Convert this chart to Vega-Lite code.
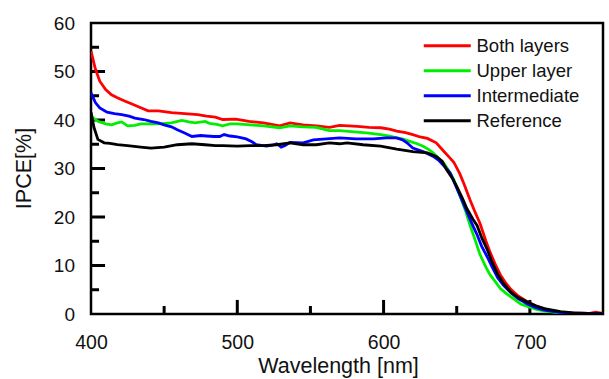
{
  "$schema": "https://vega.github.io/schema/vega-lite/v6.json",
  "width": 512,
  "height": 291,
  "autosize": "none",
  "padding": {"left": 91, "top": 23, "right": 6, "bottom": 65},
  "background": "white",
  "config": {
    "view": {"stroke": "#000", "strokeWidth": 2.5},
    "font": "Liberation Sans"
  },
  "datasets": {
    "xticks": [
      {"wavelength": 450, "kind": "minor"},
      {"wavelength": 500, "kind": "major"},
      {"wavelength": 550, "kind": "minor"},
      {"wavelength": 600, "kind": "major"},
      {"wavelength": 650, "kind": "minor"},
      {"wavelength": 700, "kind": "major"}
    ],
    "yticks": [
      {"ipce": 5, "kind": "minor"},
      {"ipce": 10, "kind": "major"},
      {"ipce": 15, "kind": "minor"},
      {"ipce": 20, "kind": "major"},
      {"ipce": 25, "kind": "minor"},
      {"ipce": 30, "kind": "major"},
      {"ipce": 35, "kind": "minor"},
      {"ipce": 40, "kind": "major"},
      {"ipce": 45, "kind": "minor"},
      {"ipce": 50, "kind": "major"},
      {"ipce": 55, "kind": "minor"}
    ],
    "curves": [
      {"series": "Both layers", "wavelength": 400, "ipce": 54.2},
      {"series": "Both layers", "wavelength": 403, "ipce": 50.5},
      {"series": "Both layers", "wavelength": 406, "ipce": 48.0},
      {"series": "Both layers", "wavelength": 410, "ipce": 46.3},
      {"series": "Both layers", "wavelength": 414, "ipce": 45.2},
      {"series": "Both layers", "wavelength": 418, "ipce": 44.6},
      {"series": "Both layers", "wavelength": 423, "ipce": 43.9},
      {"series": "Both layers", "wavelength": 428, "ipce": 43.3},
      {"series": "Both layers", "wavelength": 432, "ipce": 42.8},
      {"series": "Both layers", "wavelength": 439, "ipce": 41.9},
      {"series": "Both layers", "wavelength": 446, "ipce": 41.9},
      {"series": "Both layers", "wavelength": 455, "ipce": 41.5},
      {"series": "Both layers", "wavelength": 464, "ipce": 41.3},
      {"series": "Both layers", "wavelength": 473, "ipce": 41.1},
      {"series": "Both layers", "wavelength": 479, "ipce": 40.8},
      {"series": "Both layers", "wavelength": 485, "ipce": 40.6},
      {"series": "Both layers", "wavelength": 490, "ipce": 40.1},
      {"series": "Both layers", "wavelength": 499, "ipce": 40.2},
      {"series": "Both layers", "wavelength": 508, "ipce": 39.7},
      {"series": "Both layers", "wavelength": 518, "ipce": 39.4},
      {"series": "Both layers", "wavelength": 529, "ipce": 38.8},
      {"series": "Both layers", "wavelength": 536, "ipce": 39.4},
      {"series": "Both layers", "wavelength": 545, "ipce": 39.0},
      {"series": "Both layers", "wavelength": 554, "ipce": 38.8},
      {"series": "Both layers", "wavelength": 563, "ipce": 38.5},
      {"series": "Both layers", "wavelength": 570, "ipce": 38.9},
      {"series": "Both layers", "wavelength": 582, "ipce": 38.7},
      {"series": "Both layers", "wavelength": 590, "ipce": 38.5},
      {"series": "Both layers", "wavelength": 598, "ipce": 38.4},
      {"series": "Both layers", "wavelength": 604, "ipce": 38.1},
      {"series": "Both layers", "wavelength": 609, "ipce": 37.7},
      {"series": "Both layers", "wavelength": 615, "ipce": 37.4},
      {"series": "Both layers", "wavelength": 620, "ipce": 37.0},
      {"series": "Both layers", "wavelength": 625, "ipce": 36.5},
      {"series": "Both layers", "wavelength": 630, "ipce": 36.2},
      {"series": "Both layers", "wavelength": 636, "ipce": 35.3},
      {"series": "Both layers", "wavelength": 641, "ipce": 33.6},
      {"series": "Both layers", "wavelength": 645, "ipce": 32.3},
      {"series": "Both layers", "wavelength": 648, "ipce": 31.3},
      {"series": "Both layers", "wavelength": 652, "ipce": 29.0},
      {"series": "Both layers", "wavelength": 655, "ipce": 26.8},
      {"series": "Both layers", "wavelength": 659, "ipce": 23.6},
      {"series": "Both layers", "wavelength": 662, "ipce": 21.4},
      {"series": "Both layers", "wavelength": 666, "ipce": 18.6},
      {"series": "Both layers", "wavelength": 670, "ipce": 15.0},
      {"series": "Both layers", "wavelength": 673, "ipce": 12.6},
      {"series": "Both layers", "wavelength": 677, "ipce": 9.8},
      {"series": "Both layers", "wavelength": 680, "ipce": 8.0},
      {"series": "Both layers", "wavelength": 684, "ipce": 6.2},
      {"series": "Both layers", "wavelength": 687, "ipce": 5.1},
      {"series": "Both layers", "wavelength": 692, "ipce": 3.7},
      {"series": "Both layers", "wavelength": 698, "ipce": 2.6},
      {"series": "Both layers", "wavelength": 703, "ipce": 1.8},
      {"series": "Both layers", "wavelength": 709, "ipce": 1.1},
      {"series": "Both layers", "wavelength": 715, "ipce": 0.6},
      {"series": "Both layers", "wavelength": 720, "ipce": 0.4},
      {"series": "Both layers", "wavelength": 730, "ipce": 0.15},
      {"series": "Both layers", "wavelength": 740, "ipce": 0.1},
      {"series": "Both layers", "wavelength": 745, "ipce": 0.4},
      {"series": "Both layers", "wavelength": 750, "ipce": 0.1},

      {"series": "Upper layer", "wavelength": 400, "ipce": 41.0},
      {"series": "Upper layer", "wavelength": 402, "ipce": 40.3},
      {"series": "Upper layer", "wavelength": 405, "ipce": 39.7},
      {"series": "Upper layer", "wavelength": 410, "ipce": 39.2},
      {"series": "Upper layer", "wavelength": 414, "ipce": 39.0},
      {"series": "Upper layer", "wavelength": 418, "ipce": 39.4},
      {"series": "Upper layer", "wavelength": 421, "ipce": 39.6},
      {"series": "Upper layer", "wavelength": 425, "ipce": 38.8},
      {"series": "Upper layer", "wavelength": 430, "ipce": 38.9},
      {"series": "Upper layer", "wavelength": 434, "ipce": 39.2},
      {"series": "Upper layer", "wavelength": 440, "ipce": 39.2},
      {"series": "Upper layer", "wavelength": 446, "ipce": 39.2},
      {"series": "Upper layer", "wavelength": 455, "ipce": 39.4},
      {"series": "Upper layer", "wavelength": 462, "ipce": 39.9},
      {"series": "Upper layer", "wavelength": 467, "ipce": 39.6},
      {"series": "Upper layer", "wavelength": 471, "ipce": 39.4},
      {"series": "Upper layer", "wavelength": 478, "ipce": 39.7},
      {"series": "Upper layer", "wavelength": 481, "ipce": 39.3},
      {"series": "Upper layer", "wavelength": 486, "ipce": 39.1},
      {"series": "Upper layer", "wavelength": 490, "ipce": 38.8},
      {"series": "Upper layer", "wavelength": 495, "ipce": 39.2},
      {"series": "Upper layer", "wavelength": 500, "ipce": 39.2},
      {"series": "Upper layer", "wavelength": 509, "ipce": 39.0},
      {"series": "Upper layer", "wavelength": 518, "ipce": 38.8},
      {"series": "Upper layer", "wavelength": 529, "ipce": 38.4},
      {"series": "Upper layer", "wavelength": 536, "ipce": 38.8},
      {"series": "Upper layer", "wavelength": 545, "ipce": 38.6},
      {"series": "Upper layer", "wavelength": 554, "ipce": 38.5},
      {"series": "Upper layer", "wavelength": 563, "ipce": 37.8},
      {"series": "Upper layer", "wavelength": 570, "ipce": 37.8},
      {"series": "Upper layer", "wavelength": 582, "ipce": 37.5},
      {"series": "Upper layer", "wavelength": 590, "ipce": 37.3},
      {"series": "Upper layer", "wavelength": 598, "ipce": 37.0},
      {"series": "Upper layer", "wavelength": 605, "ipce": 36.6},
      {"series": "Upper layer", "wavelength": 609, "ipce": 36.3},
      {"series": "Upper layer", "wavelength": 614, "ipce": 36.0},
      {"series": "Upper layer", "wavelength": 618, "ipce": 35.6},
      {"series": "Upper layer", "wavelength": 623, "ipce": 35.1},
      {"series": "Upper layer", "wavelength": 627, "ipce": 34.6},
      {"series": "Upper layer", "wavelength": 631, "ipce": 33.9},
      {"series": "Upper layer", "wavelength": 634, "ipce": 33.2},
      {"series": "Upper layer", "wavelength": 638.7, "ipce": 31.8},
      {"series": "Upper layer", "wavelength": 641, "ipce": 31.2},
      {"series": "Upper layer", "wavelength": 644, "ipce": 29.8},
      {"series": "Upper layer", "wavelength": 648, "ipce": 27.7},
      {"series": "Upper layer", "wavelength": 651, "ipce": 25.3},
      {"series": "Upper layer", "wavelength": 653.6, "ipce": 23.3},
      {"series": "Upper layer", "wavelength": 656, "ipce": 21.3},
      {"series": "Upper layer", "wavelength": 659, "ipce": 18.4},
      {"series": "Upper layer", "wavelength": 662, "ipce": 15.8},
      {"series": "Upper layer", "wavelength": 666, "ipce": 12.2},
      {"series": "Upper layer", "wavelength": 670, "ipce": 9.6},
      {"series": "Upper layer", "wavelength": 673, "ipce": 8.0},
      {"series": "Upper layer", "wavelength": 677, "ipce": 6.4},
      {"series": "Upper layer", "wavelength": 680, "ipce": 5.2},
      {"series": "Upper layer", "wavelength": 684, "ipce": 4.2},
      {"series": "Upper layer", "wavelength": 689, "ipce": 3.1},
      {"series": "Upper layer", "wavelength": 694, "ipce": 2.0},
      {"series": "Upper layer", "wavelength": 698, "ipce": 1.6},
      {"series": "Upper layer", "wavelength": 704, "ipce": 1.0},
      {"series": "Upper layer", "wavelength": 710, "ipce": 0.6},
      {"series": "Upper layer", "wavelength": 720, "ipce": 0.25},
      {"series": "Upper layer", "wavelength": 730, "ipce": 0.1},
      {"series": "Upper layer", "wavelength": 750, "ipce": 0.05},

      {"series": "Intermediate", "wavelength": 400, "ipce": 45.6},
      {"series": "Intermediate", "wavelength": 403, "ipce": 43.6},
      {"series": "Intermediate", "wavelength": 406, "ipce": 42.5},
      {"series": "Intermediate", "wavelength": 411, "ipce": 41.6},
      {"series": "Intermediate", "wavelength": 416, "ipce": 41.3},
      {"series": "Intermediate", "wavelength": 421, "ipce": 41.1},
      {"series": "Intermediate", "wavelength": 426, "ipce": 40.8},
      {"series": "Intermediate", "wavelength": 430, "ipce": 40.4},
      {"series": "Intermediate", "wavelength": 436, "ipce": 40.1},
      {"series": "Intermediate", "wavelength": 441, "ipce": 39.7},
      {"series": "Intermediate", "wavelength": 446, "ipce": 39.4},
      {"series": "Intermediate", "wavelength": 450, "ipce": 39.0},
      {"series": "Intermediate", "wavelength": 455, "ipce": 38.6},
      {"series": "Intermediate", "wavelength": 459, "ipce": 38.0},
      {"series": "Intermediate", "wavelength": 464, "ipce": 37.3},
      {"series": "Intermediate", "wavelength": 469, "ipce": 36.6},
      {"series": "Intermediate", "wavelength": 475, "ipce": 36.8},
      {"series": "Intermediate", "wavelength": 479, "ipce": 36.7},
      {"series": "Intermediate", "wavelength": 484, "ipce": 36.6},
      {"series": "Intermediate", "wavelength": 488, "ipce": 36.6},
      {"series": "Intermediate", "wavelength": 491, "ipce": 37.0},
      {"series": "Intermediate", "wavelength": 495, "ipce": 36.7},
      {"series": "Intermediate", "wavelength": 500, "ipce": 36.5},
      {"series": "Intermediate", "wavelength": 506, "ipce": 36.1},
      {"series": "Intermediate", "wavelength": 510, "ipce": 35.5},
      {"series": "Intermediate", "wavelength": 513, "ipce": 34.9},
      {"series": "Intermediate", "wavelength": 520, "ipce": 34.6},
      {"series": "Intermediate", "wavelength": 524, "ipce": 34.8},
      {"series": "Intermediate", "wavelength": 527, "ipce": 35.1},
      {"series": "Intermediate", "wavelength": 530, "ipce": 34.4},
      {"series": "Intermediate", "wavelength": 533, "ipce": 34.8},
      {"series": "Intermediate", "wavelength": 536, "ipce": 35.4},
      {"series": "Intermediate", "wavelength": 545, "ipce": 35.3},
      {"series": "Intermediate", "wavelength": 552, "ipce": 35.9},
      {"series": "Intermediate", "wavelength": 561, "ipce": 36.1},
      {"series": "Intermediate", "wavelength": 570, "ipce": 36.3},
      {"series": "Intermediate", "wavelength": 581, "ipce": 36.1},
      {"series": "Intermediate", "wavelength": 593, "ipce": 36.1},
      {"series": "Intermediate", "wavelength": 602, "ipce": 36.3},
      {"series": "Intermediate", "wavelength": 609, "ipce": 36.3},
      {"series": "Intermediate", "wavelength": 613, "ipce": 35.9},
      {"series": "Intermediate", "wavelength": 616, "ipce": 35.3},
      {"series": "Intermediate", "wavelength": 620, "ipce": 34.2},
      {"series": "Intermediate", "wavelength": 627, "ipce": 33.5},
      {"series": "Intermediate", "wavelength": 634, "ipce": 32.5},
      {"series": "Intermediate", "wavelength": 638, "ipce": 31.6},
      {"series": "Intermediate", "wavelength": 642, "ipce": 30.3},
      {"series": "Intermediate", "wavelength": 645.5, "ipce": 29.1},
      {"series": "Intermediate", "wavelength": 650, "ipce": 26.0},
      {"series": "Intermediate", "wavelength": 654, "ipce": 23.2},
      {"series": "Intermediate", "wavelength": 658, "ipce": 20.3},
      {"series": "Intermediate", "wavelength": 661.5, "ipce": 17.9},
      {"series": "Intermediate", "wavelength": 664, "ipce": 16.3},
      {"series": "Intermediate", "wavelength": 667, "ipce": 14.0},
      {"series": "Intermediate", "wavelength": 671, "ipce": 11.7},
      {"series": "Intermediate", "wavelength": 674, "ipce": 9.8},
      {"series": "Intermediate", "wavelength": 678, "ipce": 7.5},
      {"series": "Intermediate", "wavelength": 682, "ipce": 5.9},
      {"series": "Intermediate", "wavelength": 687, "ipce": 4.4},
      {"series": "Intermediate", "wavelength": 692, "ipce": 3.2},
      {"series": "Intermediate", "wavelength": 698, "ipce": 2.1},
      {"series": "Intermediate", "wavelength": 704, "ipce": 1.3},
      {"series": "Intermediate", "wavelength": 710, "ipce": 0.8},
      {"series": "Intermediate", "wavelength": 720, "ipce": 0.35},
      {"series": "Intermediate", "wavelength": 730, "ipce": 0.15},
      {"series": "Intermediate", "wavelength": 750, "ipce": 0.05},

      {"series": "Reference", "wavelength": 400, "ipce": 41.6},
      {"series": "Reference", "wavelength": 402, "ipce": 38.5},
      {"series": "Reference", "wavelength": 404.7, "ipce": 36.0},
      {"series": "Reference", "wavelength": 409, "ipce": 35.3},
      {"series": "Reference", "wavelength": 413, "ipce": 35.2},
      {"series": "Reference", "wavelength": 418, "ipce": 34.9},
      {"series": "Reference", "wavelength": 425, "ipce": 34.7},
      {"series": "Reference", "wavelength": 434, "ipce": 34.4},
      {"series": "Reference", "wavelength": 441, "ipce": 34.2},
      {"series": "Reference", "wavelength": 450, "ipce": 34.4},
      {"series": "Reference", "wavelength": 459, "ipce": 34.9},
      {"series": "Reference", "wavelength": 469, "ipce": 35.1},
      {"series": "Reference", "wavelength": 478, "ipce": 34.9},
      {"series": "Reference", "wavelength": 485, "ipce": 34.7},
      {"series": "Reference", "wavelength": 490, "ipce": 34.7},
      {"series": "Reference", "wavelength": 500, "ipce": 34.6},
      {"series": "Reference", "wavelength": 509, "ipce": 34.7},
      {"series": "Reference", "wavelength": 518, "ipce": 34.7},
      {"series": "Reference", "wavelength": 527, "ipce": 34.9},
      {"series": "Reference", "wavelength": 536, "ipce": 35.3},
      {"series": "Reference", "wavelength": 545, "ipce": 34.9},
      {"series": "Reference", "wavelength": 554, "ipce": 34.9},
      {"series": "Reference", "wavelength": 563, "ipce": 35.3},
      {"series": "Reference", "wavelength": 570, "ipce": 35.1},
      {"series": "Reference", "wavelength": 575, "ipce": 35.3},
      {"series": "Reference", "wavelength": 586, "ipce": 34.9},
      {"series": "Reference", "wavelength": 598, "ipce": 34.6},
      {"series": "Reference", "wavelength": 609, "ipce": 34.0},
      {"series": "Reference", "wavelength": 620, "ipce": 33.5},
      {"series": "Reference", "wavelength": 630, "ipce": 33.2},
      {"series": "Reference", "wavelength": 636, "ipce": 32.5},
      {"series": "Reference", "wavelength": 640, "ipce": 31.5},
      {"series": "Reference", "wavelength": 643, "ipce": 29.8},
      {"series": "Reference", "wavelength": 647, "ipce": 28.0},
      {"series": "Reference", "wavelength": 650, "ipce": 26.3},
      {"series": "Reference", "wavelength": 654, "ipce": 23.8},
      {"series": "Reference", "wavelength": 657, "ipce": 21.7},
      {"series": "Reference", "wavelength": 661, "ipce": 19.6},
      {"series": "Reference", "wavelength": 664, "ipce": 18.2},
      {"series": "Reference", "wavelength": 667, "ipce": 15.8},
      {"series": "Reference", "wavelength": 671, "ipce": 13.2},
      {"series": "Reference", "wavelength": 674, "ipce": 10.8},
      {"series": "Reference", "wavelength": 678, "ipce": 8.2},
      {"series": "Reference", "wavelength": 682, "ipce": 6.3},
      {"series": "Reference", "wavelength": 687, "ipce": 4.5},
      {"series": "Reference", "wavelength": 692, "ipce": 3.4},
      {"series": "Reference", "wavelength": 698, "ipce": 2.5},
      {"series": "Reference", "wavelength": 704, "ipce": 1.7},
      {"series": "Reference", "wavelength": 710, "ipce": 1.1},
      {"series": "Reference", "wavelength": 721, "ipce": 0.5},
      {"series": "Reference", "wavelength": 730, "ipce": 0.25},
      {"series": "Reference", "wavelength": 740, "ipce": 0.1},
      {"series": "Reference", "wavelength": 750, "ipce": 0.05}
    ]
  },
  "layer": [
    {
      "data": {"name": "xticks"},
      "transform": [{"filter": "datum.kind === 'major'"}],
      "mark": {"type": "rule", "strokeWidth": 3, "color": "#000"},
      "encoding": {
        "x": {"field": "wavelength", "type": "quantitative", "title": "Wavelength [nm]"},
        "y": {"datum": 0, "type": "quantitative", "title": "IPCE[%]"},
        "y2": {"datum": 2.9}
      }
    },
    {
      "data": {"name": "xticks"},
      "transform": [{"filter": "datum.kind === 'minor'"}],
      "mark": {"type": "rule", "strokeWidth": 3, "color": "#000"},
      "encoding": {
        "x": {"field": "wavelength", "type": "quantitative", "title": "Wavelength [nm]"},
        "y": {"datum": 0, "type": "quantitative", "title": "IPCE[%]"},
        "y2": {"datum": 1.65}
      }
    },
    {
      "data": {"name": "yticks"},
      "transform": [{"filter": "datum.kind === 'major'"}],
      "mark": {"type": "rule", "strokeWidth": 3, "color": "#000"},
      "encoding": {
        "x": {"datum": 400, "type": "quantitative", "title": "Wavelength [nm]"},
        "x2": {"datum": 409.6},
        "y": {"field": "ipce", "type": "quantitative", "title": "IPCE[%]"}
      }
    },
    {
      "data": {"name": "yticks"},
      "transform": [{"filter": "datum.kind === 'minor'"}],
      "mark": {"type": "rule", "strokeWidth": 3, "color": "#000"},
      "encoding": {
        "x": {"datum": 400, "type": "quantitative", "title": "Wavelength [nm]"},
        "x2": {"datum": 405.5},
        "y": {"field": "ipce", "type": "quantitative", "title": "IPCE[%]"}
      }
    },
    {
      "data": {"name": "curves"},
      "mark": {"type": "line", "strokeWidth": 2.8, "clip": true},
      "encoding": {
        "x": {
          "field": "wavelength",
          "type": "quantitative",
          "title": "Wavelength [nm]",
          "scale": {"domain": [400, 750], "nice": false, "zero": false},
          "axis": {
            "orient": "bottom",
            "values": [400, 500, 600, 700],
            "labelFlush": false,
            "labelOverlap": false,
            "domain": false,
            "grid": false,
            "ticks": false,
            "labelPadding": 19,
            "labelFont": "Liberation Sans",
            "labelFontSize": 19.5,
            "labelColor": "#111",
            "titleFont": "Liberation Sans",
            "titleFontSize": 21.5,
            "titleFontWeight": "normal",
            "titleColor": "#111",
            "titleX": 247,
            "titleY": 58,
            "titleBaseline": "alphabetic",
            "titleAnchor": "middle"
          }
        },
        "y": {
          "field": "ipce",
          "type": "quantitative",
          "title": "IPCE[%]",
          "scale": {"domain": [0, 60], "nice": false},
          "axis": {
            "orient": "left",
            "values": [0, 10, 20, 30, 40, 50, 60],
            "labelOverlap": false,
            "labelFlush": false,
            "domain": false,
            "grid": false,
            "ticks": false,
            "labelPadding": 16.5,
            "labelFont": "Liberation Sans",
            "labelFontSize": 19,
            "labelColor": "#111",
            "titleFont": "Liberation Sans",
            "titleFontSize": 21.5,
            "titleFontWeight": "normal",
            "titleColor": "#111",
            "titleAngle": 270,
            "titleX": -61,
            "titleY": 145,
            "titleBaseline": "alphabetic",
            "titleAlign": "center"
          }
        },
        "color": {
          "field": "series",
          "type": "nominal",
          "sort": ["Both layers", "Upper layer", "Intermediate", "Reference"],
          "scale": {
            "domain": ["Both layers", "Upper layer", "Intermediate", "Reference"],
            "range": ["#ff0000", "#00ee00", "#0000ff", "#000000"]
          },
          "legend": {
            "title": null,
            "orient": "none",
            "legendX": 347,
            "legendY": 13.5,
            "padding": 0,
            "symbolType": "M-4,0H4",
            "symbolSize": 138,
            "symbolStrokeWidth": 2.8,
            "labelOffset": 20,
            "labelFont": "Liberation Sans",
            "labelFontSize": 18.5,
            "labelColor": "#111",
            "labelLimit": 300,
            "rowPadding": 6
          }
        }
      }
    }
  ]
}
